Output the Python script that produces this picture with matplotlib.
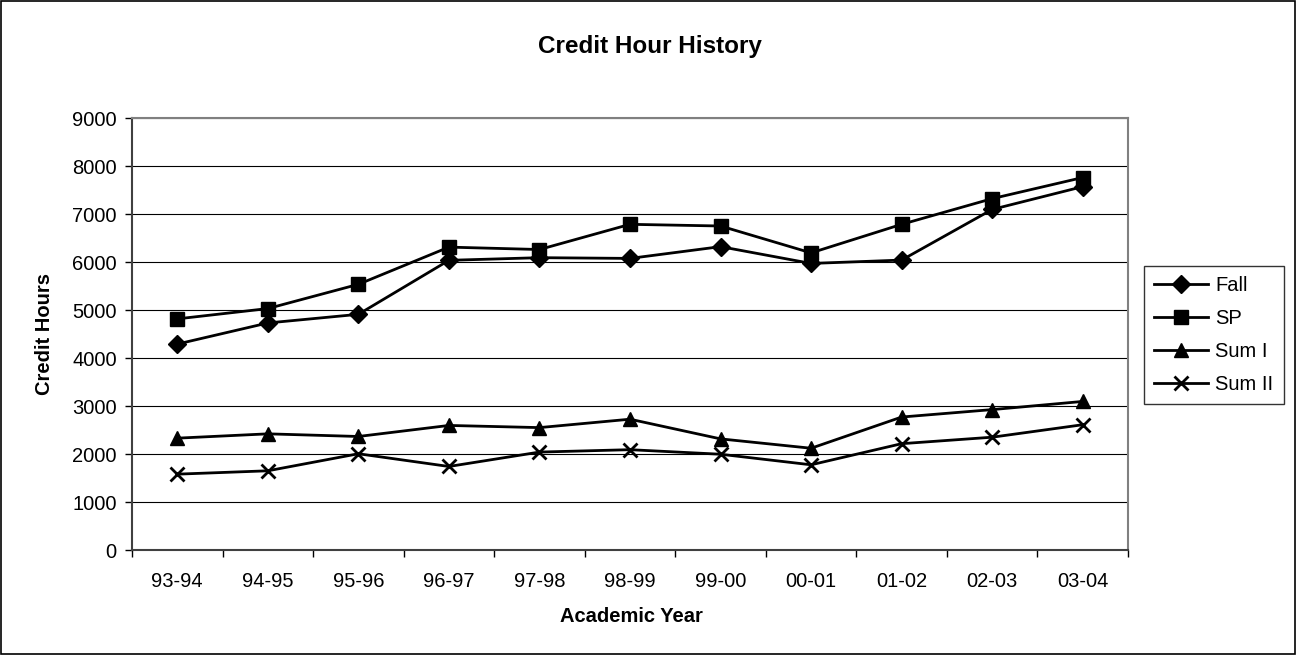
import matplotlib
matplotlib.use("Agg")
import matplotlib.pyplot as plt
from matplotlib.patches import Rectangle

plt.rcParams['font.family'] = ['Liberation Sans', 'DejaVu Sans']

years = ["93-94", "94-95", "95-96", "96-97", "97-98", "98-99", "99-00", "00-01", "01-02", "02-03", "03-04"]
fall = [4290, 4730, 4910, 6035, 6090, 6075, 6320, 5970, 6040, 7095, 7570]
sp = [4815, 5030, 5535, 6310, 6260, 6785, 6750, 6190, 6785, 7320, 7760]
sum1 = [2330, 2420, 2365, 2595, 2550, 2725, 2315, 2120, 2770, 2925, 3095]
sum2 = [1580, 1650, 2005, 1740, 2040, 2090, 1995, 1775, 2215, 2350, 2610]

fig = plt.figure(figsize=(12.96, 6.55), dpi=100)
ax = fig.add_axes([132/1296, 1 - 550/655, (1128-132)/1296, (550-118)/655])

x = list(range(len(years)))
styles = [("Fall", fall, "D", 9.5), ("SP", sp, "s", 10), ("Sum I", sum1, "^", 10.5), ("Sum II", sum2, "x", 9.5)]
for name, vals, m, ms in styles:
    ax.plot(x, vals, color="black", lw=2, marker=m, markersize=ms,
            markeredgewidth=2 if m == "x" else 1, label=name, clip_on=False)

ax.set_xlim(-0.5, len(years) - 0.5)
ax.set_ylim(0, 9000)
ax.set_yticks(range(0, 9001, 1000))
ax.set_xticks(x)
ax.set_xticklabels(years)
ax.set_xticks([i + 0.5 for i in range(-1, len(years))], minor=True)
ax.tick_params(axis="x", which="major", length=0, labelsize=14.5, pad=16)
ax.tick_params(axis="x", which="minor", length=5, width=1, direction="out", color="black")
ax.tick_params(axis="y", length=5, width=1, direction="out", labelsize=14.5, pad=6)
ax.yaxis.grid(True, color="black", lw=0.8)
ax.set_axisbelow(True)
for s in ax.spines.values():
    s.set_color("#808080")
    s.set_linewidth(1.5)
ax.spines["left"].set_color("#404040")
ax.spines["bottom"].set_color("#404040")

fig.text(631/1296, 1 - 617/655, "Academic Year", ha="center", va="center",
         fontsize=14.5, fontweight="bold")
fig.text(44/1296, 1 - 334/655, "Credit Hours", ha="center", va="center", rotation=90,
         fontsize=14.5, fontweight="bold")
fig.text(650/1296, 1 - 47/655, "Credit Hour History", ha="center", va="center",
         fontsize=17.5, fontweight="bold")

leg = fig.legend(loc="upper left", bbox_to_anchor=(1144/1296, 1 - 266/655),
                 frameon=True, fancybox=False, edgecolor="black", fontsize=14.5,
                 handlelength=2.7, borderpad=0.5, labelspacing=0.7, handletextpad=0.35,
                 borderaxespad=0)
leg.get_frame().set_linewidth(1)

fig.patches.append(Rectangle((1/1296, 1/655), 1294/1296, 653/655, transform=fig.transFigure,
                             fill=False, edgecolor="black", lw=1.2))

fig.savefig("out.png", dpi=100)
